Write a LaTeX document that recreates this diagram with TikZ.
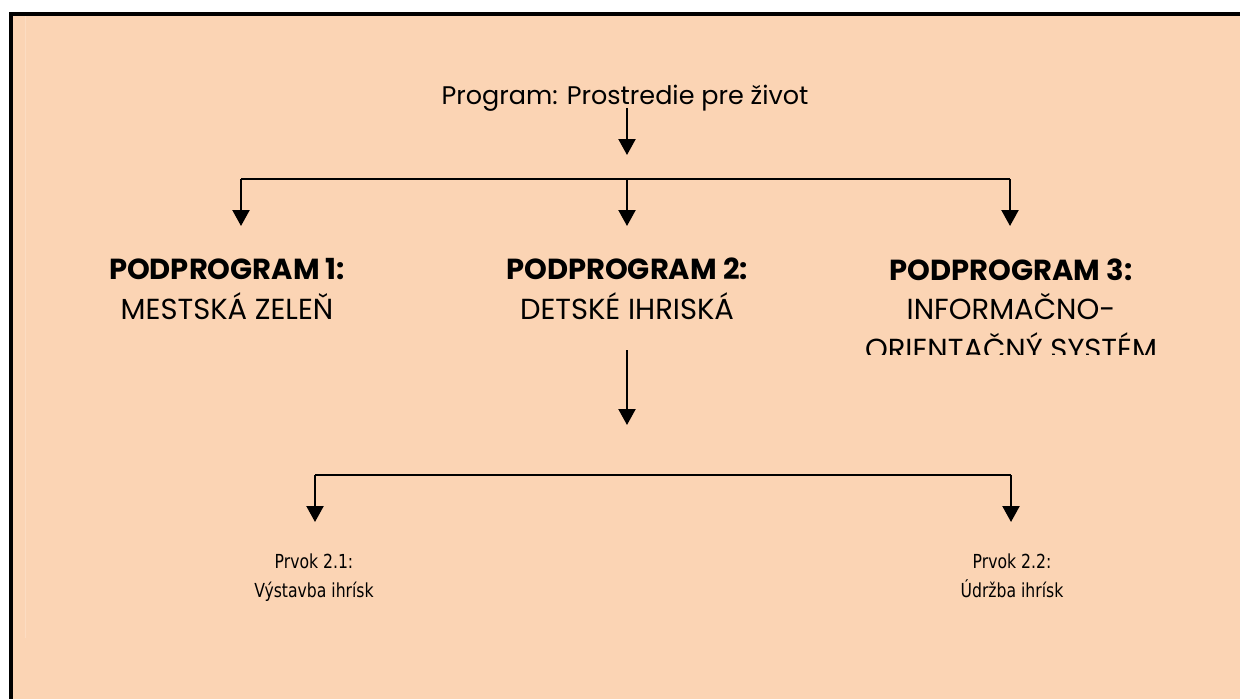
\documentclass[tikz,border=0pt]{standalone}
\usepackage{fontspec}
\setmainfont{Poppins}
\newfontfamily\smallfont[FakeStretch=0.9]{DejaVu Sans Condensed}
\usetikzlibrary{arrows.meta, positioning}

\definecolor{peach}{RGB}{251,212,180}
\definecolor{peachlight}{RGB}{252,220,194}

\tikzset{
  link/.style={line width=0.045cm},
  arr/.style={link, -{Triangle[width=0.34cm,length=0.32cm]}},
  subbox/.style={align=center, inner sep=0pt, anchor=north,
    font=\fontsize{16.5}{22.7}\selectfont},
  elembox/.style={align=center, inner sep=0pt, anchor=north,
    font=\smallfont\fontsize{11}{17}\selectfont}
}

\begin{document}
\begin{tikzpicture}[x=0.02cm, y=-0.02cm]

    \useasboundingbox (0,0) rectangle (1240,699);

    % background and frame
    \fill[peach] (11,14) rectangle (1240,699);
    \draw[peachlight, line width=0.02cm] (25,16) -- (25,638);
    \draw[line width=0.07cm] (11,699) -- (11,14) -- (1240,14);

    % program
    \node[inner sep=0pt, anchor=base, font=\fontsize{14.5}{18}\selectfont] (prog) at (625,105) {Program: Prostredie pre život};

    % ================================
    % first branching

    \coordinate (a0) at (627,155);
    \coordinate (b1) at (241,179);
    \coordinate (b2) at (627,179);
    \coordinate (b3) at (1010,179);
    \coordinate (t1) at (241,226);
    \coordinate (t2) at (627,226);
    \coordinate (t3) at (1010,226);

    \draw[arr] ([yshift=-0.06cm]prog.base -| a0) -- (a0);
    \draw[link] (b1) -- (b3);
    \draw[arr] (b1) -- (t1);
    \draw[arr] (b2) -- (t2);
    \draw[arr] (b3) -- (t3);

    % ================================
    % subprograms

    \node[subbox] (sub1) at (227,258) {\textbf{PODPROGRAM 1:}\\MESTSKÁ ZELEŇ};
    \node[subbox] (sub2) at (627,258) {\textbf{PODPROGRAM 2:}\\DETSKÉ IHRISKÁ};
    \begin{scope}
      \clip (0,0) rectangle (1240,354);
      \node[subbox] (sub3) at (1011,258) {\textbf{PODPROGRAM 3:}\\INFORMAČNO-\\ORIENTAČNÝ SYSTÉM};
    \end{scope}

    % ================================
    % second branching

    \coordinate (c0) at (627,350);
    \coordinate (c1) at (627,425);
    \coordinate (d1) at (315,475);
    \coordinate (d2) at (1011,475);
    \coordinate (e1) at (315,522);
    \coordinate (e2) at (1011,522);

    \draw[arr] (c0) -- (c1);
    \draw[link] (d1) -- (d2);
    \draw[arr] (d1) -- (e1);
    \draw[arr] (d2) -- (e2);

    % ================================
    % elements

    \node[elembox] (el1) at (314,553) {Prvok 2.1:\\Výstavba ihrísk};
    \node[elembox] (el2) at (1012,553) {Prvok 2.2:\\Údržba ihrísk};

\end{tikzpicture}
\end{document}
